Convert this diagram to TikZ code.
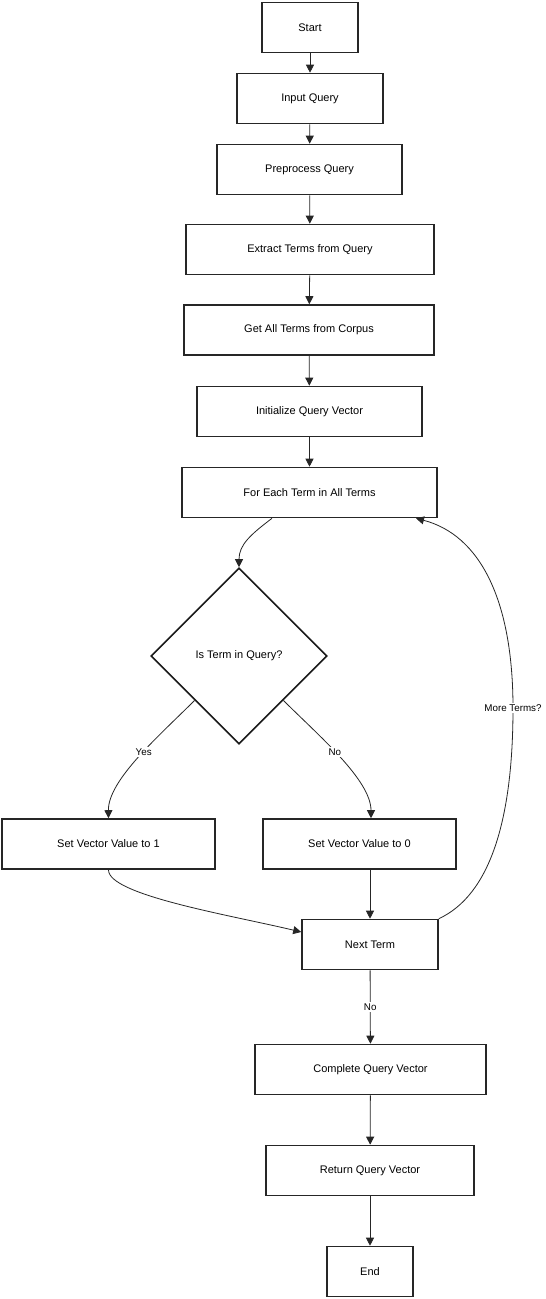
\documentclass[tikz,border=0pt]{standalone}
\usepackage{fontspec}
\setmainfont{Liberation Sans}
\usetikzlibrary{arrows.meta,shapes.geometric}
\begin{document}
\begin{tikzpicture}[x=1pt,y=-1pt,
  box/.style={draw=black!85,line width=1.6pt,rectangle,inner sep=0pt,
    minimum height=50pt,font=\fontsize{11}{13}\selectfont},
  decision/.style={draw=black!90,line width=1.6pt,diamond,aspect=1,inner sep=0pt,
    minimum width=176pt,minimum height=176pt,font=\fontsize{11}{13}\selectfont},
  conn/.style={draw=black!85,line width=0.8pt,-{Triangle[length=8pt,width=8pt]}},
  lbl/.style={fill=white,inner sep=1.5pt,font=\fontsize{9.8}{11}\selectfont}]
\useasboundingbox[fill=white] (0,0) rectangle (546,1299);

% process steps
\node[box,minimum width=96pt]  (st) at (310,27.5)    {Start};
\node[box,minimum width=146pt] (iq) at (310,98.5)    {Input Query};
\node[box,minimum width=185pt] (pp) at (309.5,169.5) {Preprocess Query};
\node[box,minimum width=248pt] (ex) at (310,249.5)   {Extract Terms from Query};
\node[box,minimum width=250pt] (ga) at (309,330)     {Get All Terms from Corpus};
\node[box,minimum width=225pt] (iv) at (309.5,411.5) {Initialize Query Vector};
\node[box,minimum width=255pt] (fe) at (309.5,492.5) {For Each Term in All Terms};
\node[decision] (dq) at (239,656) {Is Term in Query?};
\node[box,minimum width=213pt] (s1) at (108.5,844)   {Set Vector Value to 1};
\node[box,minimum width=193pt] (s0) at (359.5,844)   {Set Vector Value to 0};
\node[box,minimum width=136pt] (nt) at (370,944.5)   {Next Term};
\node[box,minimum width=231pt] (cq) at (370.5,1069.5){Complete Query Vector};
\node[box,minimum width=208pt] (rq) at (370,1170.5)  {Return Query Vector};
\node[box,minimum width=86pt]  (en) at (370,1271.5)  {End};

% straight flow
\draw[conn] (st) -- (iq);
\draw[conn] (iq) -- (pp);
\draw[conn] (pp) -- (ex);
\draw[conn] (ex) -- (ga);
\draw[conn] (ga) -- (iv);
\draw[conn] (iv) -- (fe);

% loop body
\draw[conn] ([xshift=-37.5pt]fe.south) .. controls (250,535) and (239,545) .. (dq.north);
\draw[conn] (dq.south west) .. controls (160,735) and (108,780) .. (s1.north)
  node[lbl,pos=0.45] {Yes};
\draw[conn] (dq.south east) .. controls (318,735) and (371,780) .. ([xshift=11.5pt]s0.north)
  node[lbl,pos=0.45] {No};
\draw[conn] (s1.south) .. controls (108,895) and (230,915) .. ([yshift=12.5pt]nt.west);
\draw[conn] ([xshift=10.5pt]s0.south) -- (nt.north);

% back edge to the loop head
\coordinate (mt) at (513,708);
\draw[draw=black!85,line width=0.8pt] (nt.north east) .. controls (490,895) and (513,820) .. (mt);
\draw[conn] (mt) .. controls (513,600) and (480,535) .. ([xshift=106.5pt]fe.south);
\node[lbl] at (mt) {More Terms?};

% wrap-up
\draw[conn] (nt) -- node[lbl] {No} (cq);
\draw[conn] (cq) -- (rq);
\draw[conn] (rq) -- (en);
\end{tikzpicture}
\end{document}
